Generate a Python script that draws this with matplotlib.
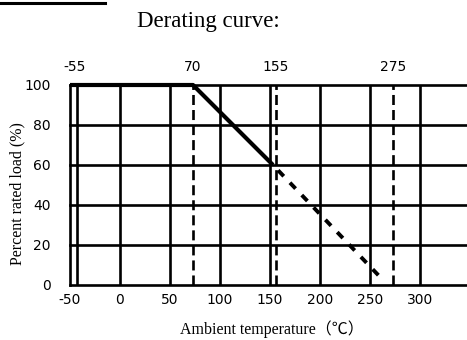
import matplotlib.pyplot as plt
import numpy as np

# derating curve data
curve_x = [-50, 73, 153]
curve_y = [100, 100, 60]
ext_x = [153, 262]
ext_y = [60, 3]

x_ticks = [-50, 0, 50, 100, 150, 200, 250, 300]
y_ticks = [0, 20, 40, 60, 80, 100]

# limit lines: drawn position and label on top axis
limit_pos = [-43, 73, 155.5, 273]
limit_lab = ["-55", "70", "155", "275"]
limit_dashed = [False, True, True, True]

W, H = 467, 340
fig = plt.figure(figsize=(W / 100, H / 100), dpi=100)
ax = fig.add_axes([70 / W, 55 / H, 397 / W, 200 / H])
ax.set_xlim(-50, 347)
ax.set_ylim(0, 100)

for s in ["top", "right"]:
    ax.spines[s].set_visible(False)
for s in ["left", "bottom"]:
    ax.spines[s].set_linewidth(1.9)

# grid
for xv in x_ticks[1:]:
    ax.axvline(xv, color="black", lw=1.9, zorder=1)
for yv in y_ticks[1:]:
    ax.axhline(yv, color="black", lw=1.9, zorder=1, clip_on=False)

# limit lines
for p, d in zip(limit_pos, limit_dashed):
    if d:
        ax.axvline(p, color="black", lw=1.9, ls=(0, (3.8, 1.9)), zorder=2)
    else:
        ax.axvline(p, color="black", lw=1.9, zorder=2)

ax.plot(curve_x, curve_y, color="black", lw=3.0, zorder=3, clip_on=False,
        solid_capstyle="butt")
ax.plot(ext_x, ext_y, color="black", lw=2.8, ls=(2.5, (2.1, 2.3)), zorder=3)

ax.set_xticks(x_ticks)
ax.set_yticks(y_ticks)
ax.tick_params(length=0, labelsize=10, pad=6)
ax.tick_params(axis="y", pad=14)
ax.set_xticklabels([str(v) for v in x_ticks])

# top labels
for p, lab in zip(limit_pos, limit_lab):
    ax.text(p + (-2 if lab == "-55" else 0), 109, lab, ha="center", va="center",
            fontsize=10, clip_on=False)

fig.text(17 / W, 1 - 194 / H, "Percent rated load (%)", family="Liberation Serif",
         fontsize=11.5, rotation=90, ha="center", va="center")
fig.text(272 / W, 1 - 329 / H, "Ambient temperature（℃）",
         family=["Liberation Serif", "Noto Sans CJK SC"], fontsize=11.5,
         ha="center", va="center")

fig.text(208 / W, 1 - 22 / H, "Derating curve:", family="Liberation Serif",
         fontsize=16.5, ha="center", va="center")

# fragment of the header underline at the very top
fig.add_artist(plt.Line2D([0, 105 / W], [1 - 3 / H, 1 - 3 / H], color="black",
                          lw=2.2, transform=fig.transFigure))

fig.savefig("out.png", dpi=100)
